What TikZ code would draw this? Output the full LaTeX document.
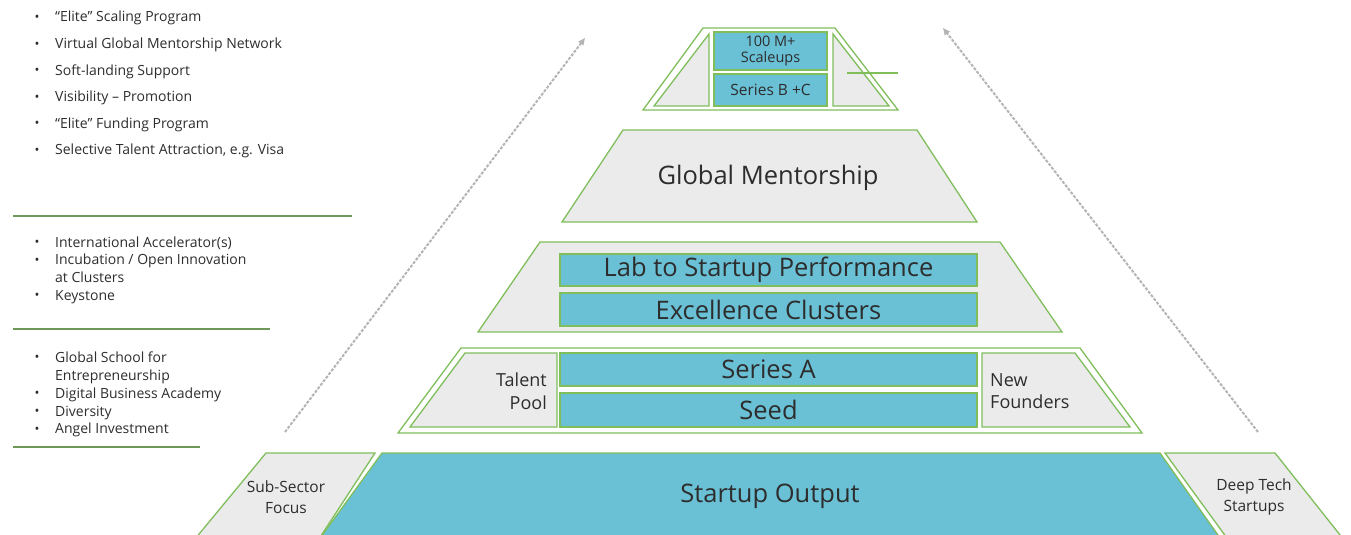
\documentclass[tikz,border=0pt]{standalone}
\usepackage{fontspec}
\setmainfont{Open Sans}
\usetikzlibrary{arrows.meta}
\definecolor{grn}{RGB}{128,190,92}
\definecolor{dgrn}{RGB}{112,152,90}
\definecolor{blu}{RGB}{106,193,214}
\definecolor{gry}{RGB}{235,235,235}
\definecolor{txt}{RGB}{45,45,45}
\definecolor{arr}{RGB}{180,180,180}
\tikzset{
  frame/.style={draw=grn, line width=1.3pt, fill=white, line join=miter},
  panel/.style={draw=grn, line width=1.3pt, fill=gry, line join=miter},
  bar/.style={draw=grn, line width=1.3pt, fill=blu, rectangle, inner sep=0pt, text=txt},
  sep/.style={draw=dgrn, line width=1.3pt},
  flow/.style={draw=arr, line width=2pt, dash pattern=on 3pt off 1.5pt, -{Triangle[length=7pt,width=6pt]}},
  lbl/.style={text=txt, inner sep=0pt},
  big/.style={lbl, font=\fontsize{25.5}{30}\selectfont},
  item/.style={lbl, anchor=west, text height=10pt, text depth=3pt, font=\fontsize{14}{16}\selectfont},
  dot/.style={lbl, anchor=center, font=\fontsize{13}{15}\selectfont},
}
\begin{document}
\begin{tikzpicture}[x=1pt,y=-1pt]
\useasboundingbox (0,0) rectangle (1351,535);
\clip (0,0) rectangle (1351,535);

% ---------- left lists ----------
\foreach \t [count=\i] in {“Elite” Scaling Program,Virtual Global Mentorship Network,Soft-landing Support,Visibility – Promotion,“Elite” Funding Program,{Selective Talent Attraction, e.g. Visa}}{
  \node[dot] (a\i) at (37,{18.5+26.5*(\i-1)}) {•};
  \node[item] (at\i) at (55,{18.5+26.5*(\i-1)}) {\t};
}
\draw[sep] (13,216) -- (352,216);

\node[dot] (b1) at (37,243.5) {•};
\node[item] (bt1) at (55,243.5) {International Accelerator(s)};
\node[dot] (b2) at (37,261) {•};
\node[item] (bt2) at (55,261) {Incubation / Open Innovation};
\node[item] (bt3) at (55,278.5) {at Clusters};
\node[dot] (b4) at (37,296.5) {•};
\node[item] (bt4) at (55,296.5) {Keystone};
\draw[sep] (13,329) -- (270,329);

\node[dot] (c1) at (37,358.5) {•};
\node[item] (ct1) at (55,358.5) {Global School for};
\node[item] (ct2) at (55,376.5) {Entrepreneurship};
\node[dot] (c3) at (37,394.5) {•};
\node[item] (ct3) at (55,394.5) {Digital Business Academy};
\node[dot] (c4) at (37,412.5) {•};
\node[item] (ct4) at (55,412.5) {Diversity};
\node[dot] (c5) at (37,430) {•};
\node[item] (ct5) at (55,430) {Angel Investment};
\draw[sep] (13,447) -- (200,447);

% ---------- arrows ----------
\coordinate (la0) at (285,432);
\coordinate (la1) at (585,38);
\coordinate (ra0) at (1258,432);
\coordinate (ra1) at (943,28);
\draw[flow] (la0) -- (la1);
\draw[flow] (ra0) -- (ra1);

% ---------- level 1 ----------
\draw[frame] (703,28) -- (835,28) -- (898,110) -- (643,110) -- cycle;
\draw[panel] (709,34) -- (709,106) -- (654,106) -- cycle;
\draw[panel] (833,34) -- (833,106) -- (889,106) -- cycle;
\draw[draw=grn, line width=1.3pt] (847,73) -- (898,73);
\node[bar, minimum width=113pt, minimum height=38pt, font=\fontsize{14.5}{16}\selectfont, align=center] (scale) at (770.5,51) {100 M+\\Scaleups};
\node[bar, minimum width=113pt, minimum height=32pt, font=\fontsize{15.5}{17}\selectfont] (sbc) at (770.5,90) {Series B +C};

% ---------- level 2 ----------
\draw[panel] (623,130) -- (917,130) -- (977,222) -- (562,222) -- cycle;
\node[big] (gm) at (768,178) {Global Mentorship};

% ---------- level 3 ----------
\draw[panel] (540,242) -- (1000,242) -- (1062,332) -- (478,332) -- cycle;
\node[bar, minimum width=417pt, minimum height=32pt, font=\fontsize{25.5}{30}\selectfont] (lab) at (768.5,270) {Lab to Startup Performance};
\node[bar, minimum width=417pt, minimum height=33pt, font=\fontsize{25.5}{30}\selectfont] (exc) at (768.5,309.5) {Excellence Clusters};

% ---------- level 4 ----------
\draw[frame] (461,348) -- (1080,348) -- (1142,433) -- (398,433) -- cycle;
\draw[panel] (465,353) -- (557,353) -- (557,427) -- (410,427) -- cycle;
\draw[panel] (982,353) -- (1075,353) -- (1130,427) -- (982,427) -- cycle;
\node[bar, minimum width=417pt, minimum height=33pt, font=\fontsize{25.5}{30}\selectfont] (sa) at (768.5,369.5) {Series A};
\node[bar, minimum width=417pt, minimum height=34pt, font=\fontsize{25.5}{30}\selectfont] (seed) at (768.5,410) {Seed};
\node[lbl, anchor=east, align=right, font=\fontsize{18}{22.5}\selectfont] (tp) at (547,391) {Talent\\Pool};
\node[lbl, anchor=west, align=left, font=\fontsize{18}{22.5}\selectfont] (nf) at (990,391) {New\\Founders};

% ---------- level 5 ----------
\draw[panel] (266,453) -- (375,453) -- (315,545) -- (190,545) -- cycle;
\draw[draw=grn, line width=1.3pt, fill=blu, line join=miter] (382,453) -- (1160,453) -- (1225,545) -- (315,545) -- cycle;
\draw[panel] (1165,453) -- (1275,453) -- (1348,545) -- (1232,545) -- cycle;
\node[big] (so) at (770,496) {Startup Output};
\node[lbl, align=center, font=\fontsize{15.5}{20.5}\selectfont] (ssf) at (286,497) {Sub-Sector\\Focus};
\node[lbl, align=center, font=\fontsize{15.5}{20.5}\selectfont] (dts) at (1254,497) {Deep Tech\\Startups};
\end{tikzpicture}
\end{document}
